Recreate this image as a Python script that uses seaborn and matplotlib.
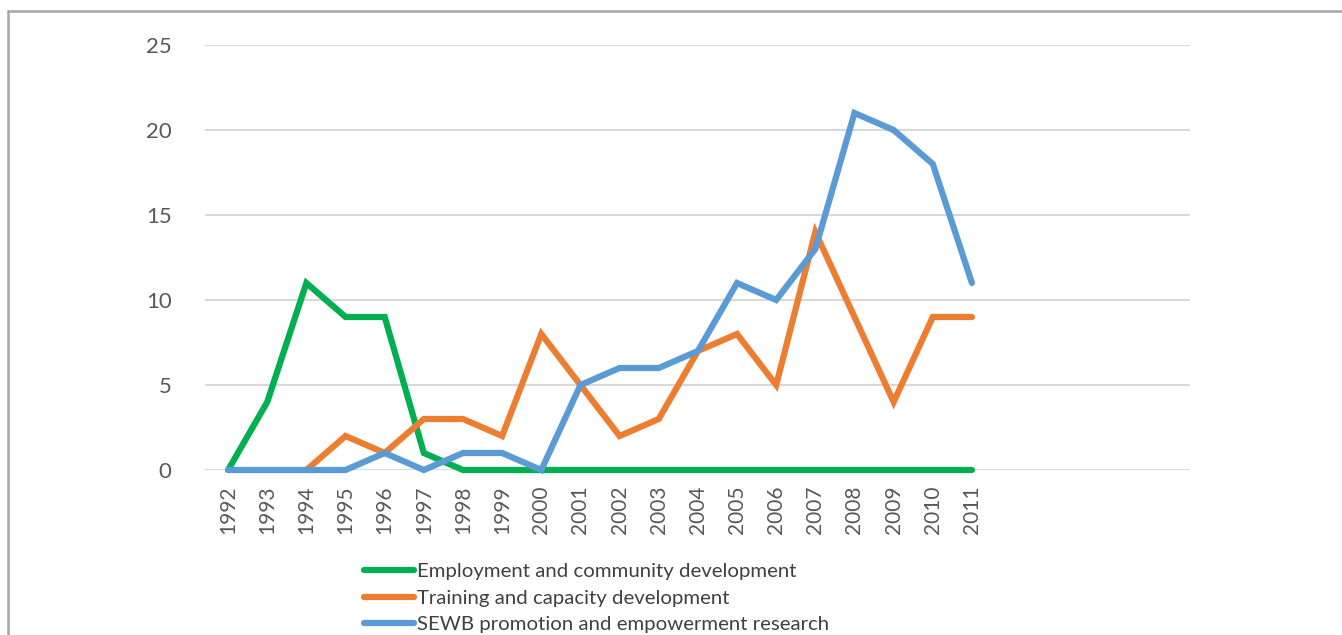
import numpy as np
import pandas as pd
import matplotlib
matplotlib.use("Agg")
import matplotlib.pyplot as plt
from matplotlib.lines import Line2D
import seaborn as sns

years = [1992, 1993, 1994, 1995, 1996, 1997, 1998, 1999, 2000, 2001,
         2002, 2003, 2004, 2005, 2006, 2007, 2008, 2009, 2010, 2011]
employment = [0, 4, 11, 9, 9, 1, 0, 0, 0, 0, 0, 0, 0, 0, 0, 0, 0, 0, 0, 0]
training = [np.nan, np.nan, 0, 2, 1, 3, 3, 2, 8, 5, 2, 3, 7, 8, 5, 14, 9, 4, 9, 9]
sewb = [0, 0, 0, 0, 1, 0, 1, 1, 0, 5, 6, 6, 7, 11, 10, 13, 21, 20, 18, 11]
series_names = ["Employment and community development",
                "Training and capacity development",
                "SEWB promotion and empowerment research"]
colors = ["#00B050", "#ED7D31", "#5B9BD5"]
yticks = [0, 5, 10, 15, 20, 25]
n_slots = 25  # category axis has empty slots beyond 2011

frames = []
for name, vals in zip(series_names, [employment, training, sewb]):
    frames.append(pd.DataFrame({"pos": np.arange(len(years)), "value": vals, "series": name}))
df = pd.concat(frames, ignore_index=True).dropna()

sns.set_theme(style="white")
plt.rcParams["font.family"] = ["Lato", "DejaVu Sans"]

W, H = 1342, 635
fig = plt.figure(figsize=(W / 100, H / 100), dpi=100)
ax = fig.add_axes([205 / W, 1 - 470 / H, (1190 - 205) / W, (470 - 45) / H])

sns.lineplot(data=df, x="pos", y="value", hue="series", hue_order=series_names,
             palette=colors, estimator=None, linewidth=4.5, ax=ax, legend=True,
             solid_capstyle="round", solid_joinstyle="miter")
for ln in ax.get_lines():
    ln.set_clip_on(False)

ax.set_xlim(-0.59, n_slots - 0.43)
ax.set_ylim(0, 25)
ax.set_yticks(yticks)
ax.set_yticklabels([str(v) for v in yticks], fontsize=16, color="#595959")
ax.set_xticks(range(len(years)))
ax.set_xticklabels([str(y) for y in years], rotation=90, fontsize=15, color="#595959")
ax.tick_params(axis="both", length=0)
ax.tick_params(axis="y", pad=24)
ax.tick_params(axis="x", pad=11)
ax.set_xlabel("")
ax.set_ylabel("")
for s in ax.spines.values():
    s.set_visible(False)
ax.grid(axis="y", color="#d9d9d9", linewidth=1.5)
ax.set_axisbelow(True)

ax.get_legend().remove()
leg_handles = [Line2D([0], [0], color=c, linewidth=4.5, solid_capstyle="round") for c in colors]
fig.legend(leg_handles, series_names, loc="upper left",
           bbox_to_anchor=(354 / W, 1 - 553 / H), frameon=False,
           fontsize=14.7, handlelength=2.45, handletextpad=0.12,
           labelspacing=0.45, borderpad=0, labelcolor="#404040")

# outer frame
fig.add_artist(Line2D([8 / W, 1.0], [1 - 11 / H, 1 - 11 / H], color="#a6a6a6",
                      linewidth=1.8, transform=fig.transFigure))
fig.add_artist(Line2D([8 / W, 8 / W], [1 - 11 / H, 0], color="#a6a6a6",
                      linewidth=1.8, transform=fig.transFigure))

fig.savefig("out.png", dpi=100, facecolor="white")
